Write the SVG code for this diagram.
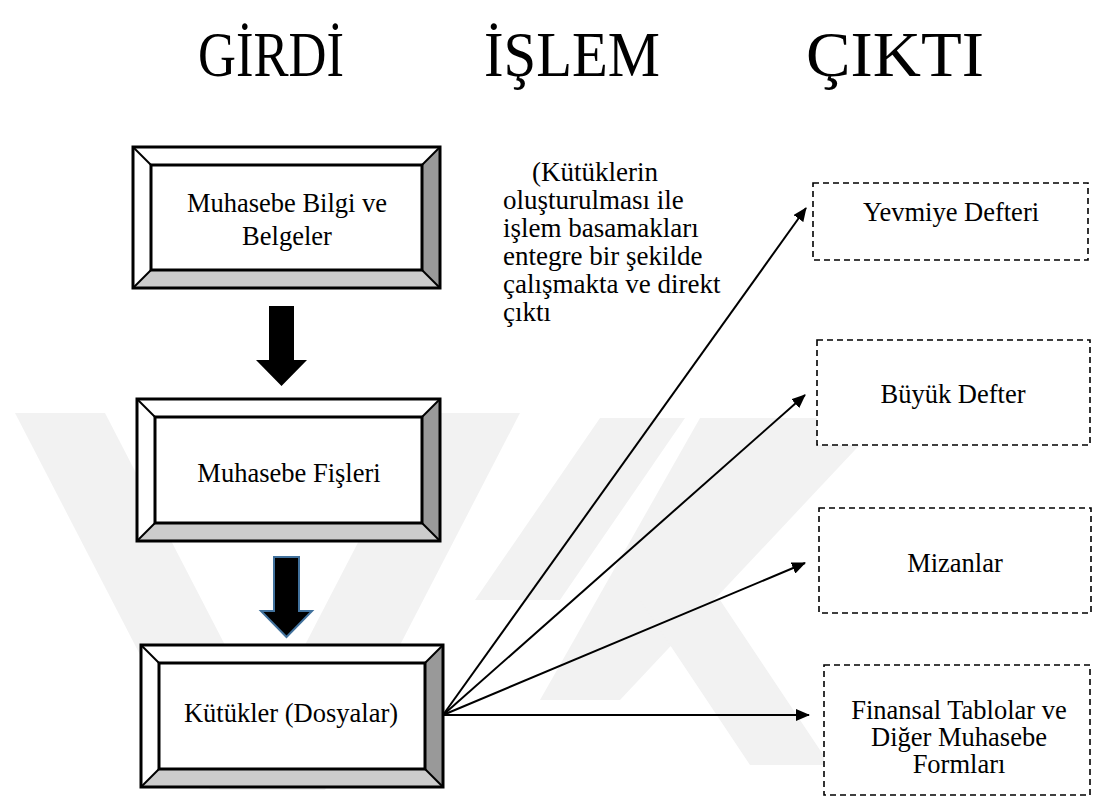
<svg xmlns="http://www.w3.org/2000/svg" width="1103" height="802" viewBox="0 0 1103 802">
<style>
.t{font-family:"Liberation Serif","Times New Roman",serif;fill:#000}
.title{font-size:64px}
.lbl{font-size:26.5px}
.note{font-size:27px}
.frame{fill:none;stroke:#000;stroke-width:3}
.diag{stroke:#000;stroke-width:2}
.lt{fill:#fff}
.rt{fill:#999}
.bt{fill:#ccc}
.dash{fill:#fff;stroke:#000;stroke-width:1.6;stroke-dasharray:6 4}
.conn{stroke:#000;stroke-width:2;fill:none;marker-end:url(#ah)}
.wm{fill:#f2f2f2}
</style>
<defs>
<marker id="ah" viewBox="0 0 14 12" refX="13" refY="6" markerWidth="14" markerHeight="12" markerUnits="userSpaceOnUse" orient="auto">
<path d="M0,0 L14,6 L0,12 Z" fill="#000"/>
</marker>
</defs>
<rect width="1103" height="802" fill="#fff"/>
<g id="watermark">
<polygon class="wm" points="15,413 105,413 300,790 210,790"/>
<polygon class="wm" points="425,413 520,413 325,790 230,790"/>
<polygon class="wm" points="600,418 685,418 560,600 475,600"/>
<polygon class="wm" points="700,418 885,418 620,700 540,700"/>
<polygon class="wm" points="640,600 720,600 830,765 750,765"/>
</g>
<g id="titles">
<text class="t title" x="198" y="76" textLength="146" lengthAdjust="spacingAndGlyphs">GİRDİ</text>
<text class="t title" x="484" y="76" textLength="176" lengthAdjust="spacingAndGlyphs">İŞLEM</text>
<text class="t title" x="806" y="76" textLength="178" lengthAdjust="spacingAndGlyphs">ÇIKTI</text>
</g>
<g id="box1">
<polygon class="lt" points="133,147 440,147 422,165 151,165"/>
<polygon class="lt" points="133,147 151,165 151,270 133,288"/>
<polygon class="rt" points="440,147 440,288 422,270 422,165"/>
<polygon class="bt" points="133,288 151,270 422,270 440,288"/>
<rect x="151" y="165" width="271" height="105" fill="#fff"/>
<line class="diag" x1="133" y1="147" x2="151" y2="165"/><line class="diag" x1="440" y1="147" x2="422" y2="165"/>
<line class="diag" x1="133" y1="288" x2="151" y2="270"/><line class="diag" x1="440" y1="288" x2="422" y2="270"/>
<rect class="frame" x="133" y="147" width="307" height="141"/>
<rect class="frame" x="151" y="165" width="271" height="105"/>
<text class="t lbl" x="287" y="212" text-anchor="middle">Muhasebe Bilgi ve</text>
<text class="t lbl" x="287" y="245" text-anchor="middle">Belgeler</text>
</g>
<g id="arrow1">
<polygon points="269,306 294,306 294,360 307,360 281.5,386 256,360 269,360" fill="#000"/>
</g>
<g id="box2">
<polygon class="lt" points="137,399 440,399 422,417 155,417"/>
<polygon class="lt" points="137,399 155,417 155,523 137,541"/>
<polygon class="rt" points="440,399 440,541 422,523 422,417"/>
<polygon class="bt" points="137,541 155,523 422,523 440,541"/>
<rect x="155" y="417" width="267" height="106" fill="#fff"/>
<line class="diag" x1="137" y1="399" x2="155" y2="417"/><line class="diag" x1="440" y1="399" x2="422" y2="417"/>
<line class="diag" x1="137" y1="541" x2="155" y2="523"/><line class="diag" x1="440" y1="541" x2="422" y2="523"/>
<rect class="frame" x="137" y="399" width="303" height="142"/>
<rect class="frame" x="155" y="417" width="267" height="106"/>
<text class="t lbl" x="289" y="482" text-anchor="middle">Muhasebe Fişleri</text>
</g>
<g id="arrow2">
<polygon points="274,557 299,557 299,611 312,611 286.5,637 261,611 274,611" fill="#000" stroke="#41719c" stroke-width="2" stroke-linejoin="miter"/>
</g>
<g id="box3">
<polygon class="lt" points="141,645 443,645 425,663 159,663"/>
<polygon class="lt" points="141,645 159,663 159,769 141,787"/>
<polygon class="rt" points="443,645 443,787 425,769 425,663"/>
<polygon class="bt" points="141,787 159,769 425,769 443,787"/>
<rect x="159" y="663" width="266" height="106" fill="#fff"/>
<line class="diag" x1="141" y1="645" x2="159" y2="663"/><line class="diag" x1="443" y1="645" x2="425" y2="663"/>
<line class="diag" x1="141" y1="787" x2="159" y2="769"/><line class="diag" x1="443" y1="787" x2="425" y2="769"/>
<rect class="frame" x="141" y="645" width="302" height="142"/>
<rect class="frame" x="159" y="663" width="266" height="106"/>
<text class="t lbl" x="291" y="722" text-anchor="middle">Kütükler (Dosyalar)</text>
</g>
<g id="process-note">
<text class="t note"><tspan x="532" y="181">(Kütüklerin</tspan><tspan x="503" y="209">oluşturulması ile</tspan><tspan x="503" y="237">işlem basamakları</tspan><tspan x="503" y="265">entegre bir şekilde</tspan><tspan x="503" y="293">çalışmakta ve direkt</tspan><tspan x="503" y="321">çıktı</tspan></text>
</g>
<g id="connectors">
<line class="conn" x1="443" y1="715" x2="806" y2="208"/>
<line class="conn" x1="443" y1="715" x2="805" y2="395"/>
<line class="conn" x1="443" y1="715" x2="805" y2="563"/>
<line class="conn" x1="443" y1="715" x2="809" y2="715"/>
</g>
<g id="yevmiye">
<rect class="dash" x="813" y="183" width="275" height="77"/>
<text class="t lbl" x="951" y="221" text-anchor="middle">Yevmiye Defteri</text>
</g>
<g id="buyuk">
<rect class="dash" x="817" y="340" width="273" height="105"/>
<text class="t lbl" x="953" y="403" text-anchor="middle">Büyük Defter</text>
</g>
<g id="mizanlar">
<rect class="dash" x="819" y="508" width="272" height="105"/>
<text class="t lbl" x="955" y="572" text-anchor="middle">Mizanlar</text>
</g>
<g id="finansal">
<rect class="dash" x="824" y="665" width="266" height="130"/>
<text class="t lbl" x="959" y="719" text-anchor="middle" font-size="26">Finansal Tablolar ve</text>
<text class="t lbl" x="959" y="746" text-anchor="middle" font-size="26">Diğer Muhasebe</text>
<text class="t lbl" x="959" y="773" text-anchor="middle" font-size="26">Formları</text>
</g>
</svg>
